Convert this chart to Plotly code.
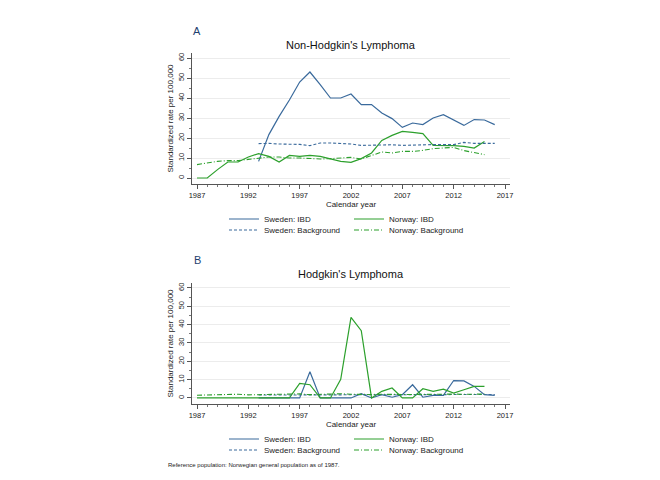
import plotly.graph_objects as go

# ---------------- data ----------------
years_sw = list(range(1993, 2017))
years_no = list(range(1987, 2016))

# Panel A: Non-Hodgkin's Lymphoma
sw_ibd_nhl = [8.3, 21.7, 30.8, 39.0, 48.0, 53.0, 46.7, 40.0, 40.0, 42.0, 36.7, 36.7,
              32.5, 29.7, 25.3, 27.5, 26.7, 30.0, 31.7, 29.2, 26.3, 29.2, 29.0, 26.7]
sw_bg_nhl = [17.2, 17.3, 17.0, 16.8, 16.8, 16.2, 17.5, 17.5, 17.2, 17.0, 16.3, 16.5,
             16.6, 16.6, 16.3, 16.5, 16.5, 16.7, 16.7, 16.7, 17.8, 17.3, 17.3, 17.3]
no_ibd_nhl = [0.0, 0.0, 4.2, 8.0, 8.0, 10.5, 12.2, 10.8, 8.0, 11.3, 10.8, 11.3, 10.8,
              9.7, 8.3, 7.8, 9.7, 12.5, 18.8, 21.3, 23.3, 22.8, 22.2, 16.3, 16.3,
              16.2, 15.8, 15.0, 18.3]
no_bg_nhl = [6.7, 7.5, 8.3, 8.7, 8.7, 9.3, 10.0, 10.5, 10.5, 10.0, 10.0, 9.8, 9.5,
             9.7, 10.0, 10.3, 9.5, 11.3, 13.0, 12.5, 13.3, 13.3, 13.8, 14.7, 15.0,
             15.3, 13.7, 12.8, 11.7]

# Panel B: Hodgkin's Lymphoma
sw_ibd_hl = [0.0, 0.0, 0.0, 0.0, 0.0, 14.3, 0.0, 0.0, 0.0, 0.0, 2.3, 0.0,
             1.8, 0.4, 1.8, 7.2, 0.4, 1.4, 1.4, 9.5, 9.3, 6.3, 1.8, 1.4]
sw_bg_hl = [1.6, 1.6, 1.7, 1.7, 1.7, 1.8, 1.7, 1.7, 1.7, 1.6, 1.7, 1.7,
            1.7, 1.7, 1.7, 1.8, 1.8, 1.8, 1.8, 1.8, 1.9, 1.9, 1.9, 1.9]
no_ibd_hl = [0.0, 0.0, 0.0, 0.0, 0.0, 0.0, 0.0, 0.0, 0.0, 0.0, 7.9, 7.2, 0.0,
             0.0, 10.2, 43.9, 36.7, 0.0, 3.6, 5.4, 0.0, 0.0, 5.0, 3.6, 4.8,
             2.7, 4.5, 6.3, 6.3]
no_bg_hl = [1.5, 1.7, 1.8, 2.0, 2.0, 1.7, 1.8, 1.9, 2.0, 2.0, 2.2, 1.8, 2.0,
            2.5, 2.3, 2.0, 1.8, 1.9, 2.0, 1.8, 1.9, 1.9, 2.0, 2.0, 2.1,
            2.1, 2.0, 2.0, 2.1]

x_ticks = [1987, 1992, 1997, 2002, 2007, 2012, 2017]
y_ticks = [0, 10, 20, 30, 40, 50, 60]

legend_names = ["Sweden: IBD", "Norway: IBD", "Sweden: Background", "Norway: Background"]

# ---------------- style ----------------
BLUE = "#3a6a9c"
GREEN = "#2ca02c"
FONT = "Liberation Sans, Arial, sans-serif"
W, H = 660, 480

fig = go.Figure()

panels = [
    dict(xa="x", ya="y", data=(sw_ibd_nhl, no_ibd_nhl, sw_bg_nhl, no_bg_nhl), legs=("legend", "legend2")),
    dict(xa="x2", ya="y2", data=(sw_ibd_hl, no_ibd_hl, sw_bg_hl, no_bg_hl), legs=("legend3", "legend4")),
]

for p in panels:
    sw_ibd, no_ibd, sw_bg, no_bg = p["data"]
    row1, row2 = p["legs"]
    fig.add_trace(go.Scatter(x=years_sw, y=sw_ibd, mode="lines", name=legend_names[0],
                             line=dict(color=BLUE, width=1.2), xaxis=p["xa"], yaxis=p["ya"],
                             legend=row1))
    fig.add_trace(go.Scatter(x=years_no, y=no_ibd, mode="lines", name=legend_names[1],
                             line=dict(color=GREEN, width=1.2), xaxis=p["xa"], yaxis=p["ya"],
                             legend=row1))
    fig.add_trace(go.Scatter(x=years_sw, y=sw_bg, mode="lines", name=legend_names[2],
                             line=dict(color=BLUE, width=1.1, dash="3px,2px"), xaxis=p["xa"],
                             yaxis=p["ya"], legend=row2))
    fig.add_trace(go.Scatter(x=years_no, y=no_bg, mode="lines", name=legend_names[3],
                             line=dict(color=GREEN, width=1.1, dash="5px,2px,1px,2px"),
                             xaxis=p["xa"], yaxis=p["ya"], legend=row2))

xdom = [184 / W, 502 / W]
xr = [1987 - 5 / 10.267, 2017 + 5 / 10.267]


def xaxis_cfg(anchor):
    return dict(domain=xdom, range=xr, anchor=anchor, tickvals=x_ticks,
                showline=True, linecolor="#555555", linewidth=1, ticks="outside",
                ticklen=4, tickcolor="#555555", showgrid=False, zeroline=False,
                tickfont=dict(size=7.5, color="#222222", family=FONT),
                minor=dict(dtick=1, tick0=1987, ticks="outside", ticklen=2,
                           tickcolor="#777777", showgrid=False),
                title=dict(text="Calendar year", font=dict(size=8, color="#222222", family=FONT),
                           standoff=2))


def yaxis_cfg(anchor, dom, rng):
    return dict(domain=dom, range=rng, anchor=anchor, tickvals=y_ticks, tickangle=-90,
                showline=True, linecolor="#555555", linewidth=1, ticks="outside",
                ticklen=4, tickcolor="#555555", showgrid=True, gridcolor="#ececec",
                gridwidth=1, zeroline=False,
                tickfont=dict(size=7.5, color="#222222", family=FONT),
                minor=dict(dtick=5, ticks="outside", ticklen=2, tickcolor="#777777",
                           showgrid=False),
                title=dict(text="Standardized rate per 100,000",
                           font=dict(size=8, color="#222222", family=FONT), standoff=2))


def leg_cfg(ypix, xpix=216):
    return dict(orientation="h", x=xpix / W, xanchor="left", y=1 - ypix / H,
                yanchor="middle", entrywidth=80, entrywidthmode="pixels",
                font=dict(size=8, color="#222222", family=FONT),
                bgcolor="rgba(0,0,0,0)", borderwidth=0, itemwidth=30,
                itemclick=False, itemdoubleclick=False)


fig.update_layout(
    width=W, height=H,
    margin=dict(l=0, r=0, t=0, b=0, autoexpand=False),
    paper_bgcolor="white", plot_bgcolor="white",
    font=dict(family=FONT),
    xaxis=xaxis_cfg("y"),
    yaxis=yaxis_cfg("x", [1 - 176 / H, 1 - 45 / H], [-3, 62.5]),
    xaxis2=xaxis_cfg("y2"),
    yaxis2=yaxis_cfg("x2", [1 - 396 / H, 1 - 275 / H], [-3.3, 62.7]),
    legend=leg_cfg(211),
    legend2=leg_cfg(222),
    legend3=leg_cfg(431),
    legend4=leg_cfg(442),
    showlegend=True,
    annotations=[
        dict(text="A", x=189 / W, y=1 - 23 / H, xref="paper", yref="paper", showarrow=False,
             xanchor="center", yanchor="middle", font=dict(size=11, color="#1f3f6f", family=FONT)),
        dict(text="Non-Hodgkin's Lymphoma", x=343 / W, y=1 - 37 / H, xref="paper", yref="paper",
             showarrow=False, xanchor="center", yanchor="middle",
             font=dict(size=11, color="#111111", family=FONT)),
        dict(text="B", x=189 / W, y=1 - 252 / H, xref="paper", yref="paper", showarrow=False,
             xanchor="center", yanchor="middle", font=dict(size=11, color="#1f3f6f", family=FONT)),
        dict(text="Hodgkin's Lymphoma", x=343 / W, y=1 - 266 / H, xref="paper", yref="paper",
             showarrow=False, xanchor="center", yanchor="middle",
             font=dict(size=11, color="#111111", family=FONT)),
        dict(text="Reference population: Norwegian general population as of 1987.",
             x=158 / W, y=1 - 457 / H, xref="paper", yref="paper", showarrow=False,
             xanchor="left", yanchor="middle", font=dict(size=6, color="#222222", family=FONT)),
    ],
)

fig.write_html("out.html")
